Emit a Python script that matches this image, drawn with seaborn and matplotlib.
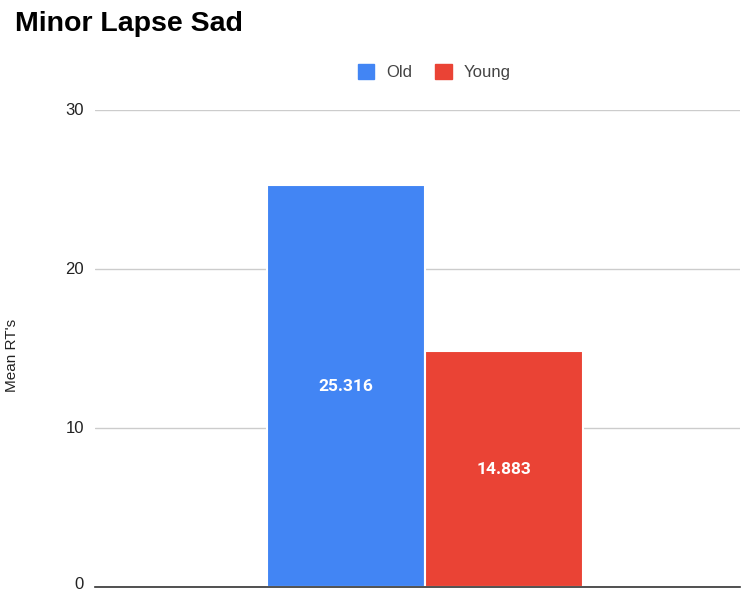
import matplotlib
matplotlib.use("Agg")
import matplotlib.pyplot as plt
import matplotlib.transforms as mtransforms
from matplotlib.patches import Patch
import seaborn as sns
import pandas as pd

# Data
groups = ["Old", "Young"]
mean_rts = [25.316, 14.883]
category = ["Minor Lapse Sad", "Minor Lapse Sad"]
colors = ["#4285f4", "#ea4335"]
y_ticks = [0, 10, 20, 30]

df = pd.DataFrame({"category": category, "group": groups, "rt": mean_rts})

sns.set_theme(style="white")
plt.rcParams["font.family"] = ["Liberation Sans", "DejaVu Sans"]

fig = plt.figure(figsize=(7.42, 5.93), dpi=100)
ax = fig.add_axes([0.128, 0.0093, 0.869, 0.805])

sns.barplot(data=df, x="category", y="rt", hue="group", palette=colors,
            saturation=1, width=0.5, gap=0.0, edgecolor="white",
            linewidth=1.5, ax=ax, legend=False)

ax.set_ylim(0, 30)
ax.set_yticks(y_ticks)
ax.set_yticklabels([str(t) for t in y_ticks], fontsize=12, color="#222222",
                   va="center")
ax.set_xlim(-0.522, 0.498)
ax.set_xticks([])
ax.set_xlabel("")
ax.set_ylabel("")
ax.tick_params(axis="y", length=0, pad=8)

# Lift the bottom tick label a little so it stays inside the canvas
lift = mtransforms.ScaledTranslation(0, 2 / 72, fig.dpi_scale_trans)
bottom_label = ax.get_yticklabels()[0]
bottom_label.set_transform(bottom_label.get_transform() + lift)

ax.grid(axis="y", color="#cccccc", linewidth=1)
ax.set_axisbelow(True)
for side in ["top", "right", "left"]:
    ax.spines[side].set_visible(False)
ax.spines["bottom"].set_color("#333333")
ax.spines["bottom"].set_linewidth(1.2)
ax.spines["bottom"].set_zorder(5)

# Value labels at the middle of each bar
for container in ax.containers:
    for bar in container:
        h = bar.get_height()
        ax.text(bar.get_x() + bar.get_width() / 2, h / 2, f"{h:.3f}",
                ha="center", va="center", color="white",
                fontsize=12.5, fontweight="bold",
                family=["Roboto", "DejaVu Sans"])

# Axis title
fig.text(12 / 742, 1 - 355 / 593, "Mean RT's", rotation=90, fontsize=11,
         color="#222222", ha="center", va="center")

# Legend
handles = [Patch(facecolor=c, edgecolor=c) for c in colors]
fig.legend(handles, groups, loc="center", bbox_to_anchor=(0.585, 0.878),
           ncol=2, frameon=False, fontsize=12, handlelength=1.0,
           handleheight=1.0, handletextpad=0.7, columnspacing=1.4,
           labelcolor="#444444")

fig.text(0.02, 0.96, "Minor Lapse Sad", fontsize=20.5, fontweight="bold",
         ha="left", va="center", color="#000000")

fig.savefig("out.png", dpi=100)
